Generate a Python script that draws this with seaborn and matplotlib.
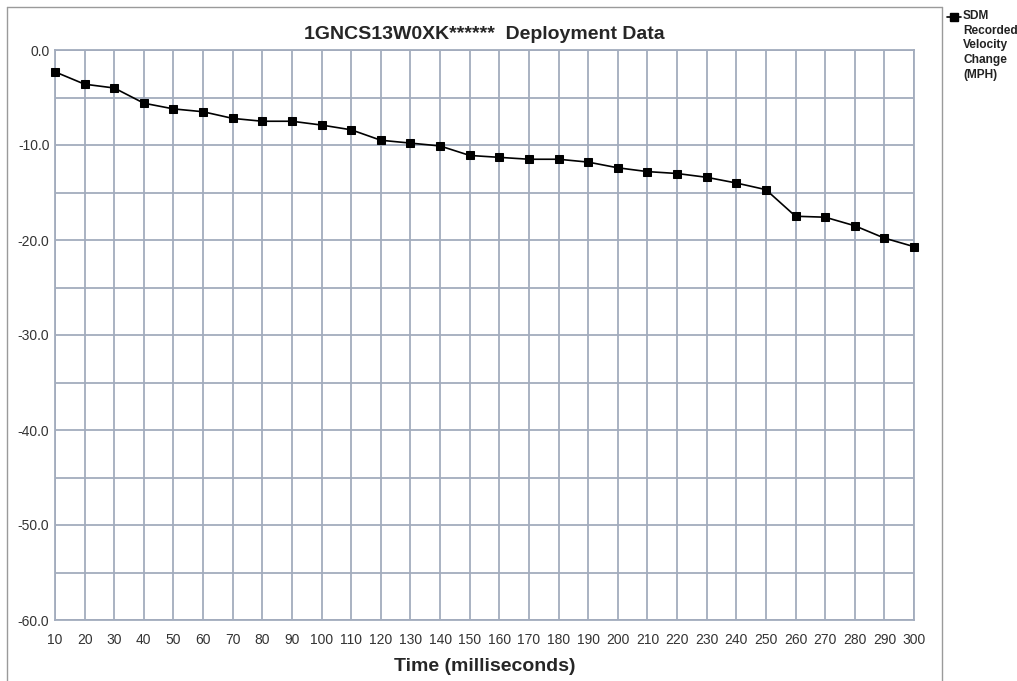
import numpy as np
import pandas as pd
import seaborn as sns
import matplotlib.pyplot as plt
from matplotlib.lines import Line2D

time_ms = list(range(10, 310, 10))
velocity_change = [-2.3, -3.6, -4.0, -5.6, -6.2, -6.5, -7.2, -7.5, -7.5, -7.9,
                   -8.4, -9.5, -9.8, -10.1, -11.1, -11.3, -11.5, -11.5, -11.8, -12.4,
                   -12.8, -13.0, -13.4, -14.0, -14.7, -17.5, -17.6, -18.5, -19.8, -20.7]
y_ticks = np.arange(-60, 5, 5)
y_labels = [f"{v:.1f}" if v % 10 == 0 else "" for v in y_ticks]

df = pd.DataFrame({"Time": time_ms, "Velocity": velocity_change})

sns.set_style("white")
plt.rcParams["font.family"] = ["Liberation Sans", "DejaVu Sans"]

grid_col = "#a3acbd"
fig = plt.figure(figsize=(10.17, 6.81), dpi=100)
ax = fig.add_axes([55 / 1017, 61 / 681, 859 / 1017, 570 / 681])

sns.lineplot(data=df, x="Time", y="Velocity", ax=ax, color="black",
             marker="s", markersize=6, linewidth=1.2, markeredgecolor="black",
             clip_on=False, zorder=5)

ax.set_xlim(10, 300)
ax.set_ylim(-60, 0)
ax.set_xticks(time_ms)
ax.set_xticklabels([str(t) for t in time_ms], fontsize=10, color="#333333")
ax.set_yticks(y_ticks)
ax.set_yticklabels(y_labels, fontsize=10, color="#333333")
ax.grid(True, color=grid_col, linewidth=1.3)
ax.set_axisbelow(True)
for s in ax.spines.values():
    s.set_color(grid_col)
    s.set_linewidth(1.3)
ax.tick_params(axis="x", length=5, color=grid_col, pad=4)
ax.tick_params(axis="y", length=0, pad=4)

ax.set_title("1GNCS13W0XK******  Deployment Data", fontsize=14,
             fontweight="bold", pad=8)
ax.set_xlabel("Time (milliseconds)", fontsize=14, fontweight="bold", labelpad=8)
ax.set_ylabel("")

# outer frame and legend
frame_col = "#9a9a9a"
fig.add_artist(Line2D([7 / 1017, 942 / 1017], [1 - 7 / 681, 1 - 7 / 681],
                      color=frame_col, linewidth=1))
fig.add_artist(Line2D([7 / 1017, 7 / 1017], [0, 1 - 7 / 681],
                      color=frame_col, linewidth=1))
fig.add_artist(Line2D([942 / 1017, 942 / 1017], [0, 1 - 7 / 681],
                      color=frame_col, linewidth=1))
fig.add_artist(Line2D([947 / 1017, 961 / 1017], [1 - 17 / 681, 1 - 17 / 681],
                      color="black", linewidth=1.2))
fig.add_artist(Line2D([954 / 1017], [1 - 17 / 681], color="black",
                      marker="s", markersize=6, linestyle="none"))
fig.text(963 / 1017, 1 - 10 / 681, "SDM\nRecorded\nVelocity\nChange\n(MPH)",
         fontsize=8.6, fontweight="bold", va="top", ha="left", linespacing=1.3,
         color="#222222")

fig.savefig("out.png", dpi=100)
